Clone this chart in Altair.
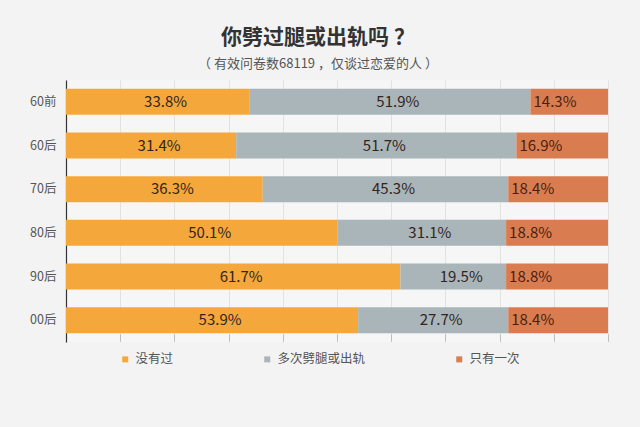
import altair as alt
import pandas as pd

categories = ["60前", "60后", "70后", "80后", "90后", "00后"]
series = ["没有过", "多次劈腿或出轨", "只有一次"]
never = [33.8, 31.4, 36.3, 50.1, 61.7, 53.9]
multi = [51.9, 51.7, 45.3, 31.1, 19.5, 27.7]
once = [14.3, 16.9, 18.4, 18.8, 18.8, 18.4]
colors = ["#f4a83c", "#a9b5b9", "#d97c50"]
x_ticks = [0, 10, 20, 30, 40, 50, 60, 70, 80, 90, 100]

rows = []
for i, c in enumerate(categories):
    for j, (s, vals) in enumerate(zip(series, [never, multi, once])):
        rows.append({"cat": c, "series": s, "value": vals[i], "order": j,
                     "label": f"{vals[i]:.1f}%"})
df = pd.DataFrame(rows)

FONT = "Noto Sans CJK SC"

base = alt.Chart(df).transform_stack(
    stack="value", as_=["x0", "x1"], groupby=["cat"],
    sort=[alt.SortField("order", order="ascending")]
).transform_calculate(mid="(datum.x0 + datum.x1) / 2")

y_enc = alt.Y("cat:N", sort=categories, title=None,
              scale=alt.Scale(paddingInner=0, paddingOuter=0),
              axis=alt.Axis(labelFontSize=12.5, labelColor="#555555", labelFont=FONT,
                            ticks=False, labelPadding=10, domainColor="#333333",
                            domainWidth=1.2, grid=False))
x_scale = alt.Scale(domain=[0, 100], nice=False, zero=True)

bars = base.mark_bar(size=26).encode(
    y=y_enc,
    x=alt.X("x0:Q", scale=x_scale, title=None,
            axis=alt.Axis(values=x_ticks, labels=False, domain=False, tickSize=7,
                          offset=-8, tickColor="#bdbdbd", grid=True,
                          gridColor="#e2e2e2", gridWidth=1)),
    x2="x1:Q",
    color=alt.Color("series:N", sort=series,
                    scale=alt.Scale(domain=series, range=colors),
                    legend=alt.Legend(title=None, orient="none", direction="horizontal",
                                      legendX=53, legendY=273, columnPadding=87,
                                      symbolType="square", symbolSize=36,
                                      symbolStrokeWidth=0, labelOffset=4,
                                      labelFontSize=12.5, labelColor="#555555",
                                      labelFont=FONT)),
)

center_text = base.transform_filter("datum.order < 2").mark_text(
    fontSize=15, font=FONT, color="#33241c", dx=8, baseline="middle"
).encode(
    y=alt.Y("cat:N", sort=categories),
    x=alt.X("mid:Q", scale=x_scale),
    text="label:N",
)

left_text = base.transform_filter("datum.order == 2").mark_text(
    fontSize=15, font=FONT, color="#4a1f12", dx=3, align="left", baseline="middle"
).encode(
    y=alt.Y("cat:N", sort=categories),
    x=alt.X("x0:Q", scale=x_scale),
    text="label:N",
)

chart = alt.layer(bars, center_text, left_text).properties(
    width=542, height=262,
    autosize=alt.AutoSizeParams(type="none"),
    padding={"left": 66, "top": 80, "right": 32, "bottom": 85},
    background="#f3f3f3",
    title=alt.TitleParams(
        text="你劈过腿或出轨吗 ？",
        subtitle="（ 有效问卷数68119 ，仅谈过恋爱的人 ）",
        anchor="middle", frame="group", dx=-19, offset=9,
        font=FONT, fontSize=21, fontWeight="bold", color="#333333",
        subtitleFont=FONT, subtitleFontSize=13, subtitleColor="#555555",
        subtitlePadding=10,
    ),
).configure_view(stroke=None, fill="#f6f6f6")

chart.save("out.html", embed_options={"renderer": "svg", "actions": False})
